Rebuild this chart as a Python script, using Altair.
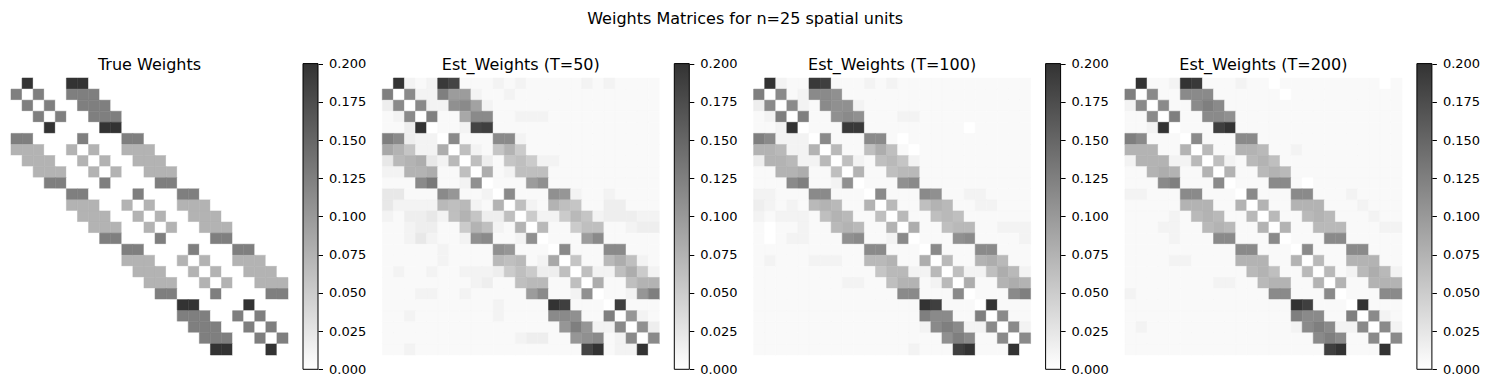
import altair as alt
import pandas as pd

N_UNITS = 25
MAX_W = 0.2
CODE_MAX = 35  # code 'Z' (base-36 digit 35) == 0.2 ; '0' == 0.0

# Each row of a matrix: 25 base-36 codes (spaces only for readability)
TRUE_W = [
    "0Z000 ZZ000 00000 00000 00000",
    "M0M00 MMM00 00000 00000 00000",
    "0M0M0 0MMM0 00000 00000 00000",
    "00M0M 00MMM 00000 00000 00000",
    "000Z0 000ZZ 00000 00000 00000",
    "MM000 0M000 MM000 00000 00000",
    "DDD00 D0D00 DDD00 00000 00000",
    "0DDD0 0D0D0 0DDD0 00000 00000",
    "00DDD 00D0D 00DDD 00000 00000",
    "000MM 000M0 000MM 00000 00000",
    "00000 MM000 0M000 MM000 00000",
    "00000 DDD00 D0D00 DDD00 00000",
    "00000 0DDD0 0D0D0 0DDD0 00000",
    "00000 00DDD 00D0D 00DDD 00000",
    "00000 000MM 000M0 000MM 00000",
    "00000 00000 MM000 0M000 MM000",
    "00000 00000 DDD00 D0D00 DDD00",
    "00000 00000 0DDD0 0D0D0 0DDD0",
    "00000 00000 00DDD 00D0D 00DDD",
    "00000 00000 000MM 000M0 000MM",
    "00000 00000 00000 ZZ000 0Z000",
    "00000 00000 00000 MMM00 M0M00",
    "00000 00000 00000 0MMM0 0M0M0",
    "00000 00000 00000 00MMM 00M0M",
    "00000 00000 00000 000ZZ 000Z0",
]

EST_T50 = [
    "0Z212 YW111 21211 11121 21111",
    "M0K22 MHH21 12111 11111 11111",
    "3K0K2 2JKG2 11111 11111 11111",
    "12K0M 11FKK 11222 11111 11111",
    "113Z0 112WX 11111 11111 11111",
    "MK322 0K111 KK211 11111 11111",
    "FDA22 E0B21 AD911 11111 11111",
    "4CDE4 2C0B3 1AB92 21111 11111",
    "22DDE 11B0E 12BBB 11111 11111",
    "111KN 112J0 111HJ 11111 11111",
    "44111 KI112 0K111 JI211 21111",
    "42222 CBC21 D0B21 DBA11 33111",
    "21334 2BDA3 3B092 29CA2 33322",
    "11233 119DB 21D0C 119BB 11233",
    "11242 112JK 112J0 111HK 11111",
    "11111 21111 JI111 0K111 KK111",
    "11111 21111 CBC12 F0A11 CEB21",
    "12112 11222 39B93 3B0B2 2BE92",
    "11111 11123 11BCC 11B0E 11BDD",
    "11122 11211 111HK 112J0 112IM",
    "11111 11111 21111 ZX111 0X111",
    "11211 11111 21111 KKJ11 M0I21",
    "11111 11111 11111 1IMI2 2K0J3",
    "11111 11111 11233 11IJK 12K0K",
    "11211 11111 11111 111WZ 122Z0",
]

EST_T100 = [
    "0Z211 YX111 21211 11111 11111",
    "M0K12 KKJ11 11111 11111 11111",
    "3K0K2 1KJJ2 11111 11111 11111",
    "12M0M 11JKJ 11122 11111 11111",
    "112Z0 111YY 11111 11110 11111",
    "MK222 0K111 KK101 11111 11111",
    "DDC22 D0C11 BEB10 11111 11111",
    "3DDC2 2C0B2 1BCA2 11111 11111",
    "11DDE 11B0D 11BCC 11111 11111",
    "111KM 112J0 111JK 11111 11111",
    "22111 KK111 0K111 KJ112 21111",
    "32121 CDC11 D0C11 BDC11 22111",
    "21222 1BDC1 1B0C1 1BCB1 11111",
    "10112 11CDC 11D0E 11BCC 11222",
    "10122 111JK 112K0 111JK 11112",
    "11111 11111 KK111 0K111 KK111",
    "12111 22211 CCD11 E0C11 DEC11",
    "11111 11111 1ACC2 2C0B2 2BEC2",
    "11111 11122 11BDD 12C0E 11DED",
    "11111 11111 111KK 111K0 111KM",
    "11111 11111 11111 ZX111 0Z111",
    "11111 11111 11111 MKK11 M0K11",
    "11111 11111 11111 2KMK2 2K0K2",
    "11111 11111 11111 11JMK 11K0K",
    "11111 11111 11112 111XZ 111Z0",
]

EST_T200 = [
    "0Z112 ZY111 21101 11111 11101",
    "M0K11 KKK11 11110 11111 11111",
    "2K0K1 1KMK1 11111 11111 11111",
    "11K0M 11KKJ 11111 11111 11111",
    "112Z0 111XZ 11111 11111 11111",
    "MK111 0K111 KK111 11111 11111",
    "DDD11 D0C11 DDC11 21111 11111",
    "2DDD2 2C0B2 1CDB1 11111 11111",
    "11DED 11D0D 11CDC 11111 11111",
    "111KM 111K0 111KK 10111 11111",
    "22111 KK111 0K111 KK111 21111",
    "11111 DDD11 D0D11 DDD11 12111",
    "11112 1CDC1 1C0C1 1CDC1 11211",
    "11122 11CDC 11D0D 11CCC 11122",
    "11112 111KK 111K0 111KK 11111",
    "11111 11111 KK111 0K111 KK111",
    "11112 21111 DDD11 D0C11 DDD11",
    "11111 11111 1CDB1 1C0C1 2CEC2",
    "11111 11122 11CDD 11D0D 11DDD",
    "21111 11111 111KK 111K0 111KK",
    "11111 11111 11111 ZX111 0Z111",
    "11111 11111 11111 MKK11 M0K21",
    "12111 11111 11111 2KMK2 2K0K2",
    "11111 11111 11111 11KMK 11K0K",
    "11111 11111 11111 111XZ 111Z0",
]

PANEL_TITLES = ["True Weights", "Est_Weights (T=50)", "Est_Weights (T=100)", "Est_Weights (T=200)"]
MATRICES = [TRUE_W, EST_T50, EST_T100, EST_T200]
SUPTITLE = "Weights Matrices for n=25 spatial units"
CBAR_TICKS = [0.0, 0.025, 0.05, 0.075, 0.1, 0.125, 0.15, 0.175, 0.2]
CBAR_DOMAIN = [0.0, 0.2]

FONT = "DejaVu Sans"
SIZE = 277


def decode(rows):
    recs = []
    for i, r in enumerate(rows):
        s = r.replace(" ", "")
        assert len(s) == N_UNITS, (i, s)
        for j, ch in enumerate(s):
            recs.append({"row": i, "col": j, "w": int(ch, 36) * MAX_W / CODE_MAX})
    return pd.DataFrame(recs)


cscale = alt.Scale(domain=CBAR_DOMAIN, range=["#ffffff", "#333333"], clamp=True, interpolate="rgb")

gradient = alt.LinearGradient(
    gradient="linear",
    stops=[alt.GradientStop(color="#ffffff", offset=0), alt.GradientStop(color="#333333", offset=1)],
    x1=0, x2=0, y1=1, y2=0,
)


def panel(rows, title):
    df = decode(rows)
    heat = alt.Chart(df).mark_rect(strokeWidth=0.5).encode(
        x=alt.X("col:O", axis=None, scale=alt.Scale(paddingInner=0, paddingOuter=0)),
        y=alt.Y("row:O", axis=None, scale=alt.Scale(paddingInner=0, paddingOuter=0)),
        color=alt.Color("w:Q", scale=cscale, legend=None),
        stroke=alt.Stroke("w:Q", scale=cscale, legend=None),
    )
    cbar = alt.Chart(pd.DataFrame({"v": [0]})).mark_rect(
        fill=gradient, stroke="black", strokeWidth=1
    ).encode(
        x=alt.value(292),
        x2=alt.value(307),
        y=alt.Y(
            datum=CBAR_DOMAIN[0],
            type="quantitative",
            scale=alt.Scale(domain=CBAR_DOMAIN, range=[291.3, -14.4]),
            axis=alt.Axis(
                orient="right", offset=30, values=CBAR_TICKS, format=".3f",
                domain=False, grid=False, ticks=True, tickSize=4.5, tickColor="black",
                tickWidth=1, labelPadding=6, labelFontSize=13, labelFont=FONT,
                labelColor="black", title=None,
            ),
        ),
        y2=alt.Y2(datum=CBAR_DOMAIN[1]),
    )
    return alt.layer(heat, cbar).resolve_scale(y="independent").properties(
        width=SIZE,
        height=SIZE,
        title=alt.TitleParams(
            text=title, fontSize=16, font=FONT, fontWeight="normal", color="black",
            anchor="middle", frame="group", offset=0, dy=15.5,
        ),
    )


panels = [panel(m, t) for m, t in zip(MATRICES, PANEL_TITLES)]

chart = alt.hconcat(*panels, spacing=94.3, bounds="flush").properties(
    title=alt.TitleParams(
        text=SUPTITLE, fontSize=16, font=FONT, fontWeight="normal", color="black",
        anchor="middle", offset=30.5,
    ),
    padding={"left": 2, "top": 2, "right": 0, "bottom": 2},
).configure_view(stroke=None)

chart.save("out.html", embed_options={"renderer": "svg", "actions": False})
